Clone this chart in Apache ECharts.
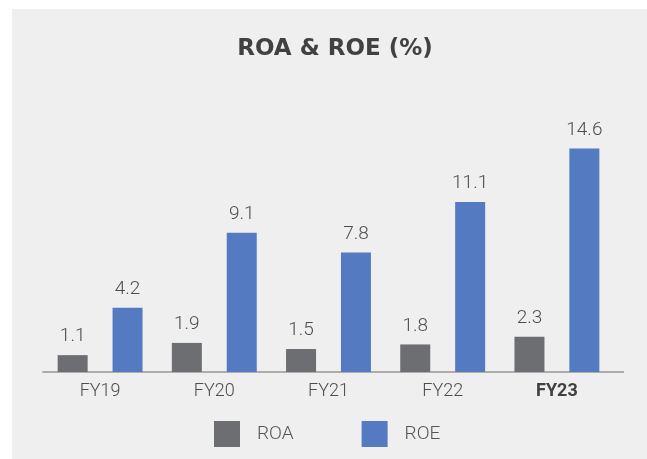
<!DOCTYPE html>
<html><head><meta charset="utf-8">
<script src="https://cdn.jsdelivr.net/npm/echarts@6/dist/echarts.min.js"></script>
<style>html,body{margin:0;padding:0;background:#fff}#bg{position:absolute;left:12px;top:9px;right:0;bottom:0;background:#efefef}#c{position:absolute;left:0;top:0;width:647px;height:459px}</style>
</head><body><div id="bg"></div><div id="c"></div>
<script>
const categories = ['FY19','FY20','FY21','FY22','FY23'];
const roa = [1.1, 1.9, 1.5, 1.8, 2.3];
const roe = [4.2, 9.1, 7.8, 11.1, 14.6];
const seriesNames = ['ROA','ROE'];
const chart = echarts.init(document.getElementById('c'));
const labelStyle = {show:true, position:'top', distance:9, color:'#4d4d4f', fontSize:19, fontWeight:300, fontFamily:'Roboto'};
chart.setOption({
  animation:false,
  title:{text:'ROA & ROE (%)', left:330, textAlign:'center', top:33,
    textStyle:{fontFamily:'DejaVu Sans', fontWeight:'bold', fontSize:23, color:'#414143'}},
  legend:{bottom:7, left:209, itemWidth:26, itemHeight:26, itemGap:68,
    icon:'rect', textStyle:{fontFamily:'Roboto', fontWeight:300, fontSize:19, color:'#555', padding:[0,0,0,12]},
    data:seriesNames},
  grid:{left:43, right:33, top:127, bottom:87},
  xAxis:{type:'category', data:categories,
    axisLine:{lineStyle:{color:'#adadad', width:2}}, axisTick:{show:false},
    axisLabel:{fontFamily:'Roboto', fontWeight:300, fontSize:18, color:'#4d4d4f', margin:10,
      formatter:(v)=> v==='FY23' ? '{b|'+v+'}' : v,
      rich:{b:{fontWeight:'bold', fontSize:18, color:'#414143', fontFamily:'Roboto'}}}},
  yAxis:{type:'value', min:0, max:16, show:false, splitLine:{show:false}},
  graphic:[{type:'line', shape:{x1:614, y1:372, x2:624, y2:372}, style:{stroke:'#adadad', lineWidth:2}}],
  series:[
    {name:seriesNames[0], type:'bar', data:roa, barWidth:30, barGap:'83%',
     itemStyle:{color:'#6d6e71'}, label:labelStyle},
    {name:seriesNames[1], type:'bar', data:roe, barWidth:30,
     itemStyle:{color:'#547bc1'}, label:labelStyle}
  ]
});
</script></body></html>
